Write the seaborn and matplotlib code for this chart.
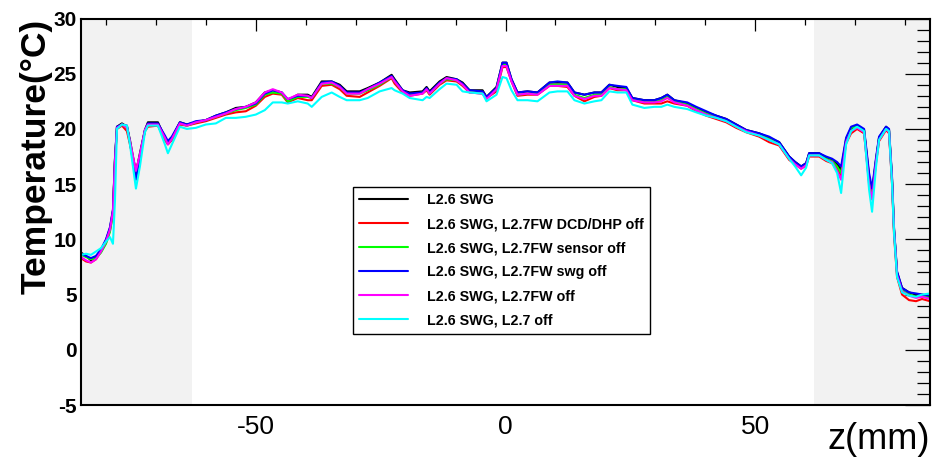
import matplotlib
matplotlib.use("Agg")
import matplotlib.pyplot as plt
from matplotlib.ticker import MultipleLocator
import pandas as pd
import seaborn as sns

# Position along the ladder (mm)
z_mm = [
    -85, -84, -83, -82, -81, -80, -79.2, -78.6, -78.2, -77.8,
    -76.8, -75.8, -75.2, -74.0, -73.2, -72.2, -71.6, -69.6, -68.2, -67.6,
    -66.8, -65.2, -63.8, -62, -60, -58, -56, -54, -52, -50,
    -48.2, -46.6, -44.8, -43.6, -41.6, -39.6, -38.8, -36.8, -34.8, -33.2,
    -31.8, -29.2, -27.6, -25.2, -22.8, -22.2, -20.6, -19.2, -16.6, -15.8,
    -15.2, -13.2, -11.8, -9.8, -8.6, -7.2, -4.6, -3.8, -1.8, -0.6,
    0.2, 1.2, 2.4, 4.4, 6.4, 8.8, 10.4, 12.4, 13.8, 15.8,
    17.8, 19.2, 20.8, 22.4, 24.2, 25.4, 27.8, 29.8, 31.2, 32.4,
    33.8, 36.4, 38.2, 40.2, 42.2, 44.2, 46.2, 48.2, 50.8, 52.8,
    54.8, 56.8, 58.0, 59.2, 60.2, 60.8, 62.8, 64.2, 65.4, 66.4,
    67.2, 68.2, 69.2, 70.4, 71.8, 72.8, 73.4, 74.2, 74.8, 76.2,
    76.8, 77.4, 77.8, 78.4, 79.4, 80.8, 82.2, 83.4, 85,
]

# Temperature (deg C) for each configuration
t_swg = [
    8.8, 8.5, 8.1, 8.4, 9.0, 9.9, 11.0, 12.6, 17.2, 20.2,
    20.5, 20.2, 19.0, 16.0, 17.8, 19.9, 20.6, 20.6, 19.2, 18.8,
    19.2, 20.6, 20.4, 20.6, 20.8, 21.2, 21.5, 21.9, 22.0, 22.4,
    23.3, 23.5, 23.3, 22.6, 23.1, 23.1, 22.9, 24.3, 24.3, 24.0,
    23.4, 23.4, 23.7, 24.2, 24.9, 24.5, 23.5, 23.3, 23.4, 23.8,
    23.4, 24.3, 24.7, 24.5, 24.2, 23.5, 23.5, 22.9, 23.8, 26.0,
    26.0, 24.5, 23.3, 23.4, 23.3, 24.2, 24.2, 24.2, 23.3, 23.1,
    23.3, 23.3, 24.0, 23.8, 23.7, 22.8, 22.6, 22.6, 22.8, 23.1,
    22.6, 22.3, 21.9, 21.5, 21.2, 20.9, 20.4, 19.9, 19.6, 19.2,
    18.8, 17.5, 17.0, 16.6, 16.9, 17.8, 17.8, 17.4, 17.2, 16.8,
    16.3, 19.0, 19.9, 20.3, 19.9, 15.7, 14.3, 17.2, 19.2, 20.2,
    19.9, 15.4, 10.9, 7.0, 5.6, 5.2, 5.0, 5.0, 4.8,
]
t_dcd_off = [
    8.3, 8.0, 7.9, 8.2, 8.9, 9.7, 10.8, 12.3, 17.0, 20.0,
    20.3, 19.8, 18.6, 16.2, 17.6, 19.8, 20.2, 20.3, 19.0, 18.6,
    19.0, 20.4, 20.3, 20.5, 20.7, 21.0, 21.3, 21.5, 21.6, 22.1,
    22.9, 23.2, 23.1, 22.4, 22.8, 22.6, 22.6, 23.9, 24.0, 23.6,
    23.0, 22.9, 23.3, 23.9, 24.6, 24.1, 23.3, 23.0, 23.2, 23.5,
    23.1, 24.0, 24.4, 24.3, 23.9, 23.3, 23.2, 22.8, 23.4, 25.6,
    25.6, 24.3, 23.0, 23.1, 23.1, 23.9, 23.9, 23.8, 23.0, 22.5,
    22.9, 23.0, 23.7, 23.5, 23.5, 22.6, 22.3, 22.3, 22.3, 22.5,
    22.3, 22.1, 21.6, 21.2, 20.9, 20.6, 20.1, 19.7, 19.3, 18.8,
    18.5, 17.2, 16.8, 16.4, 16.7, 17.5, 17.5, 17.1, 16.9, 16.4,
    15.8, 18.7, 19.6, 20.0, 19.6, 15.2, 13.9, 17.0, 18.9, 19.9,
    19.6, 15.0, 10.4, 6.6, 5.0, 4.5, 4.4, 4.6, 4.4,
]
t_sensor_off = [
    8.6, 8.4, 8.2, 8.3, 8.8, 9.6, 10.7, 12.4, 17.1, 20.1,
    20.4, 20.1, 18.8, 15.8, 17.5, 19.8, 20.4, 20.4, 19.1, 18.7,
    19.1, 20.5, 20.3, 20.6, 20.8, 21.1, 21.4, 21.7, 21.9, 22.2,
    23.1, 23.3, 23.2, 22.5, 22.9, 22.9, 22.8, 24.1, 24.1, 23.8,
    23.2, 23.2, 23.5, 24.0, 24.7, 24.3, 23.4, 23.1, 23.3, 23.6,
    23.2, 24.1, 24.5, 24.4, 24.0, 23.4, 23.3, 22.8, 23.6, 25.8,
    25.8, 24.4, 23.1, 23.2, 23.2, 24.0, 24.0, 24.0, 23.1, 22.8,
    23.1, 23.1, 23.8, 23.6, 23.6, 22.7, 22.5, 22.5, 22.6, 22.9,
    22.5, 22.2, 21.8, 21.4, 21.1, 20.8, 20.3, 19.8, 19.5, 19.1,
    18.7, 17.4, 16.9, 16.5, 16.8, 17.7, 17.7, 17.3, 17.1, 16.6,
    16.0, 19.1, 20.1, 20.2, 19.8, 15.5, 14.1, 17.2, 19.2, 20.1,
    19.8, 15.3, 10.8, 6.9, 5.4, 5.0, 4.8, 4.9, 4.7,
]
t_swg_off = [
    8.7, 8.5, 8.3, 8.5, 9.1, 10.0, 11.1, 12.7, 17.3, 20.2,
    20.4, 20.3, 18.8, 15.4, 17.6, 19.9, 20.5, 20.5, 19.4, 18.9,
    19.3, 20.6, 20.4, 20.7, 20.8, 21.2, 21.5, 21.8, 22.0, 22.3,
    23.2, 23.5, 23.3, 22.7, 23.0, 23.0, 22.8, 24.2, 24.3, 23.9,
    23.3, 23.3, 23.6, 24.2, 24.8, 24.4, 23.5, 23.2, 23.3, 23.7,
    23.3, 24.2, 24.6, 24.5, 24.1, 23.5, 23.4, 22.9, 23.7, 26.0,
    26.0, 24.5, 23.3, 23.4, 23.3, 24.2, 24.3, 24.2, 23.3, 23.1,
    23.3, 23.3, 24.0, 23.9, 23.8, 22.8, 22.6, 22.6, 22.8, 23.1,
    22.6, 22.4, 22.0, 21.6, 21.2, 20.9, 20.4, 19.9, 19.6, 19.3,
    18.8, 17.5, 17.0, 16.6, 16.9, 17.8, 17.8, 17.5, 17.3, 17.0,
    16.6, 19.2, 20.2, 20.4, 20.0, 16.0, 14.6, 17.4, 19.3, 20.2,
    20.0, 15.6, 11.0, 7.1, 5.6, 5.2, 5.1, 5.0, 4.9,
]
t_fw_off = [
    8.4, 8.1, 7.9, 8.2, 8.9, 9.8, 10.9, 12.5, 17.0, 20.1,
    20.4, 20.1, 18.9, 16.2, 17.7, 19.9, 20.4, 20.4, 19.2, 18.6,
    19.1, 20.5, 20.3, 20.6, 20.8, 21.1, 21.4, 21.8, 22.0, 22.4,
    23.3, 23.6, 23.3, 22.7, 23.1, 23.0, 22.8, 24.1, 24.2, 23.8,
    23.2, 23.2, 23.6, 24.1, 24.7, 24.3, 23.4, 23.0, 23.2, 23.6,
    23.2, 24.1, 24.6, 24.4, 24.0, 23.3, 23.2, 22.7, 23.6, 25.7,
    25.7, 24.3, 23.1, 23.2, 23.1, 23.9, 23.9, 23.9, 23.0, 22.7,
    23.0, 23.0, 23.7, 23.6, 23.5, 22.6, 22.4, 22.4, 22.5, 22.8,
    22.4, 22.1, 21.7, 21.3, 21.0, 20.7, 20.2, 19.8, 19.4, 19.0,
    18.6, 17.3, 16.8, 16.4, 16.7, 17.6, 17.6, 17.2, 17.0, 16.2,
    15.4, 18.8, 19.8, 20.1, 19.7, 15.0, 13.6, 17.0, 19.0, 20.0,
    19.7, 15.1, 10.7, 6.8, 5.3, 4.9, 4.7, 4.8, 4.6,
]
t_l27_off = [
    8.6, 8.7, 8.6, 8.9, 9.2, 9.8, 10.2, 9.6, 13.5, 20.0,
    20.4, 20.3, 18.6, 14.6, 16.6, 19.7, 20.3, 20.3, 18.6, 17.8,
    18.6, 20.2, 20.0, 20.1, 20.4, 20.5, 21.0, 21.0, 21.1, 21.3,
    21.7, 22.4, 22.4, 22.3, 22.5, 22.3, 22.0, 22.9, 23.3, 22.9,
    22.6, 22.6, 22.8, 23.4, 23.7, 23.5, 23.2, 22.8, 22.6, 22.9,
    22.8, 23.6, 24.1, 24.0, 23.4, 23.3, 23.2, 22.5, 23.1, 24.7,
    24.6, 23.5, 22.6, 22.6, 22.5, 23.3, 23.4, 23.4, 22.6, 22.3,
    22.5, 22.6, 23.4, 23.3, 23.3, 22.2, 21.9, 22.0, 22.0, 22.2,
    22.0, 21.8, 21.5, 21.2, 21.0, 20.7, 20.2, 19.7, 19.4, 19.0,
    18.6, 17.3, 16.6, 15.8, 16.5, 17.6, 17.6, 17.2, 16.9, 16.0,
    14.2, 18.6, 19.8, 20.2, 19.8, 14.5, 12.5, 16.6, 19.0, 20.0,
    19.8, 15.0, 10.6, 6.6, 5.2, 4.9, 4.8, 5.0, 5.1,
]

series_labels = [
    "L2.6 SWG",
    "L2.6 SWG, L2.7FW DCD/DHP off",
    "L2.6 SWG, L2.7FW sensor off",
    "L2.6 SWG, L2.7FW swg off",
    "L2.6 SWG, L2.7FW off",
    "L2.6 SWG, L2.7 off",
]
series_values = [t_swg, t_dcd_off, t_sensor_off, t_swg_off, t_fw_off, t_l27_off]
series_colors = ["#000000", "#ff0000", "#00ff00", "#0000ff", "#ff00ff", "#00ffff"]

# End regions of the ladder (shaded)
left_region = (-85, -62.8)
right_region = (61.8, 85)

sns.set_theme(style="white")
plt.rcParams["font.family"] = ["Liberation Sans", "DejaVu Sans"]
plt.rcParams["axes.unicode_minus"] = False
for key in ("text.color", "axes.labelcolor", "xtick.color", "ytick.color",
            "axes.edgecolor"):
    plt.rcParams[key] = "black"

df = pd.concat(
    [pd.DataFrame({"z": z_mm, "T": vals, "run": lab})
     for lab, vals in zip(series_labels, series_values)],
    ignore_index=True,
)

W, H = 933, 461
fig = plt.figure(figsize=(W / 100, H / 100), dpi=100)
ax = fig.add_axes([81 / W, 1 - 405 / H, 849 / W, 386.5 / H])

ax.axvspan(*left_region, color="#f2f2f2", lw=0, zorder=0)
ax.axvspan(*right_region, color="#f2f2f2", lw=0, zorder=0)

sns.lineplot(
    data=df, x="z", y="T", hue="run", hue_order=series_labels,
    palette=dict(zip(series_labels, series_colors)),
    estimator=None, sort=False, lw=1.5, ax=ax,
)

ax.set_xlim(-85, 85)
ax.set_ylim(-5, 30)
ax.xaxis.set_major_locator(MultipleLocator(50))
ax.xaxis.set_minor_locator(MultipleLocator(10))
ax.yaxis.set_major_locator(MultipleLocator(5))
ax.yaxis.set_minor_locator(MultipleLocator(1))

ax.tick_params(axis="both", which="both", direction="in",
               top=True, right=True, color="black", width=0.9)
ax.tick_params(axis="x", which="major", length=8.5, pad=7,
               labelsize=19, labelcolor="black")
ax.tick_params(axis="x", which="minor", length=4.3)
ax.tick_params(axis="y", which="major", length=18, pad=3,
               labelsize=15, labelcolor="black")
ax.tick_params(axis="y", which="minor", length=9.4)
for lbl in ax.get_yticklabels():
    lbl.set_fontweight("bold")

for sp in ax.spines.values():
    sp.set_color("black")
    sp.set_linewidth(1.5)

ax.set_xlabel("z(mm)", loc="right", fontsize=26, color="black")
ax.xaxis.set_label_coords(1.0, -0.045)
ax.set_ylabel("Temperature(\u00b0C)", loc="top", fontsize=25.5,
              fontweight="bold", color="black")
ax.yaxis.set_label_coords(-0.034, 1.0)

handles, labels = ax.get_legend_handles_labels()
leg = ax.legend(
    handles, labels, loc="upper left",
    bbox_to_anchor=(353 / W, 1 - 187 / H), bbox_transform=fig.transFigure,
    borderaxespad=0, frameon=True, fancybox=False, framealpha=1,
    edgecolor="black", prop={"weight": "bold", "size": 10.3},
    handlelength=3.4, handletextpad=1.3, labelspacing=0.7,
    borderpad=0.45,
)
leg.get_frame().set_linewidth(1.0)
for txt in leg.get_texts():
    txt.set_color("black")

fig.savefig("out.png", dpi=100)
